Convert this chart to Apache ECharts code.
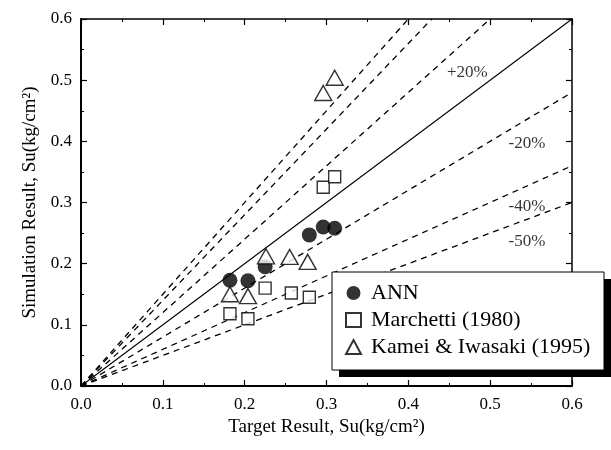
<!DOCTYPE html>
<html>
<head>
<meta charset="utf-8">
<script src="https://cdn.jsdelivr.net/npm/echarts@6/dist/echarts.min.js"></script>
<style>
  html, body { margin: 0; padding: 0; background: #fff; }
  #chart { width: 611px; height: 450px; }
</style>
</head>
<body>
<div id="chart"></div>
<script>
// Measured undrained shear strength: target vs. simulated values
const annX = [0.182, 0.204, 0.225, 0.279, 0.296, 0.310];
const annY = [0.173, 0.172, 0.195, 0.247, 0.260, 0.258];

const marchettiX = [0.182, 0.204, 0.225, 0.257, 0.279, 0.296, 0.310];
const marchettiY = [0.118, 0.110, 0.160, 0.152, 0.145, 0.325, 0.342];

const kameiX = [0.182, 0.204, 0.226, 0.255, 0.277, 0.296, 0.310];
const kameiY = [0.150, 0.147, 0.212, 0.211, 0.203, 0.479, 0.504];

// Error-band reference lines through the origin (simulation / target ratio)
const bandRatios = [1.5, 1.4, 1.2, 0.8, 0.6, 0.5];
const bandLabels = ['+20%', '-20%', '-40%', '-50%'];
const bandLabelX = [0.472, 0.545, 0.545, 0.545];
const bandLabelY = [0.513, 0.396, 0.294, 0.237];

const axisTicks = ['0.0', '0.1', '0.2', '0.3', '0.4', '0.5', '0.6'];
const axisMax = 0.6;

const serif = 'Liberation Serif';

function pairs(xs, ys) {
  return xs.map((x, i) => [x, ys[i]]);
}

function lineThrough(ratio) {
  const end = ratio >= 1 ? [axisMax / ratio, axisMax] : [axisMax, axisMax * ratio];
  return [[0, 0], end];
}

const refSeries = bandRatios.map((r) => ({
  type: 'line',
  data: lineThrough(r),
  symbol: 'none',
  silent: true,
  z: 1,
  lineStyle: { color: '#000', width: 1.3, type: [6, 5] }
}));

refSeries.push({
  type: 'line',
  data: lineThrough(1),
  symbol: 'none',
  silent: true,
  z: 1,
  lineStyle: { color: '#000', width: 1.1, type: 'solid' }
});

refSeries.push({
  type: 'scatter',
  data: bandLabels.map((t, i) => ({ value: [bandLabelX[i], bandLabelY[i]], name: t })),
  symbolSize: 0,
  silent: true,
  z: 2,
  label: {
    show: true,
    position: 'inside',
    formatter: (p) => p.name,
    fontFamily: serif,
    fontSize: 17,
    color: '#000'
  }
});

const valueAxisBase = {
  type: 'value',
  min: 0,
  max: axisMax,
  interval: 0.1,
  splitLine: { show: false },
  axisLine: { show: true, onZero: false, lineStyle: { color: '#000', width: 2 } },
  axisTick: { show: true, inside: true, length: 6, lineStyle: { color: '#000', width: 1.2 } },
  minorTick: { show: true, splitNumber: 2, length: 3, lineStyle: { color: '#000', width: 1 } },
  axisLabel: {
    fontFamily: serif,
    fontSize: 17,
    color: '#000',
    formatter: (v) => axisTicks[Math.round(v * 10)]
  }
};

const mirrorAxis = (pos) => Object.assign({}, valueAxisBase, {
  position: pos,
  axisLabel: { show: false },
  axisLine: { show: true, onZero: false, lineStyle: { color: '#000', width: 1.5 } }
});

// Legend frame with a hard drop shadow
const legendBox = { x: 332, y: 272, width: 272, height: 98, shadow: 7 };

const chart = echarts.init(document.getElementById('chart'), null, { renderer: 'canvas' });

chart.setOption({
  animation: false,
  backgroundColor: '#fff',
  grid: { left: 81, right: 39, top: 19, bottom: 64 },
  graphic: [
    {
      type: 'rect',
      z: 20,
      silent: true,
      shape: {
        x: legendBox.x + legendBox.shadow,
        y: legendBox.y + legendBox.shadow,
        width: legendBox.width,
        height: legendBox.height
      },
      style: { fill: '#000' }
    },
    {
      type: 'rect',
      z: 21,
      silent: true,
      shape: { x: legendBox.x, y: legendBox.y, width: legendBox.width, height: legendBox.height },
      style: { fill: '#fff', stroke: '#000', lineWidth: 1 }
    }
  ],
  xAxis: [
    Object.assign({}, valueAxisBase, {
      position: 'bottom',
      name: 'Target Result, Su(kg/cm²)',
      nameLocation: 'middle',
      nameGap: 24,
      nameTextStyle: { fontFamily: serif, fontSize: 19, color: '#000' },
      axisLabel: Object.assign({}, valueAxisBase.axisLabel, { margin: 10 })
    }),
    mirrorAxis('top')
  ],
  yAxis: [
    Object.assign({}, valueAxisBase, {
      position: 'left',
      name: 'Simulation Result, Su(kg/cm²)',
      nameLocation: 'middle',
      nameGap: 34,
      nameTextStyle: { fontFamily: serif, fontSize: 19, color: '#000' },
      axisLabel: Object.assign({}, valueAxisBase.axisLabel, { margin: 9 })
    }),
    mirrorAxis('right')
  ],
  legend: {
    data: ['ANN', 'Marchetti (1980)', 'Kamei & Iwasaki (1995)'],
    orient: 'vertical',
    left: 332,
    top: 272,
    z: 30,
    padding: [10, 7, 9, 13],
    itemGap: 5,
    itemWidth: 15,
    itemHeight: 14,
    textStyle: { fontFamily: serif, fontSize: 22, lineHeight: 22, color: '#000', padding: [0, 0, 0, 5] }
  },
  series: refSeries.concat([
    {
      name: 'ANN',
      type: 'scatter',
      data: pairs(annX, annY),
      symbol: 'circle',
      symbolSize: 15,
      z: 3,
      itemStyle: { color: '#000', borderColor: '#000', borderWidth: 0 }
    },
    {
      name: 'Marchetti (1980)',
      type: 'scatter',
      data: pairs(marchettiX, marchettiY),
      symbol: 'rect',
      symbolSize: 12,
      z: 4,
      itemStyle: { color: '#fff', borderColor: '#000', borderWidth: 1.4 }
    },
    {
      name: 'Kamei & Iwasaki (1995)',
      type: 'scatter',
      data: pairs(kameiX, kameiY),
      symbol: 'triangle',
      symbolSize: [17, 15],
      z: 5,
      itemStyle: { color: '#fff', borderColor: '#000', borderWidth: 1.4 }
    }
  ])
});
</script>
</body>
</html>
